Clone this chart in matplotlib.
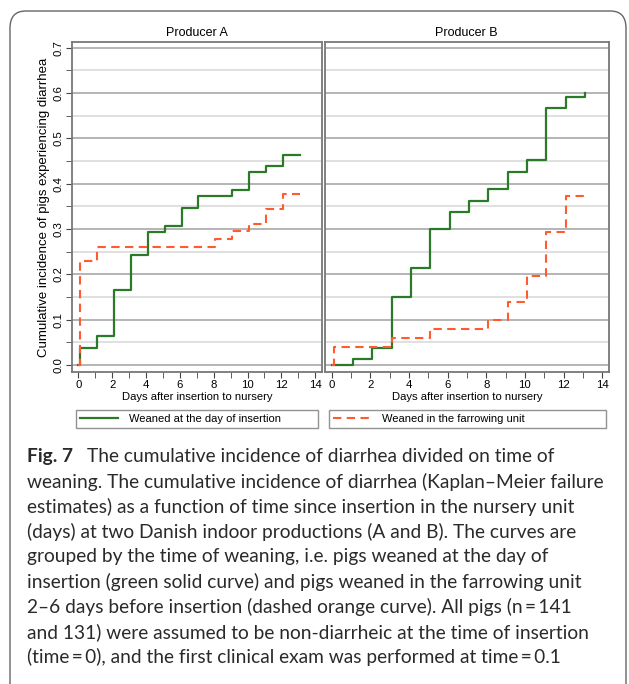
import matplotlib
matplotlib.use("Agg")
import matplotlib.pyplot as plt
from matplotlib.lines import Line2D
from matplotlib.patches import FancyBboxPatch
import numpy as np

# Producer A
dias_a_verde = [0, 0.1, 1.1, 2.1, 3.1, 4.1, 5.1, 6.1, 7.1, 9.1, 10.1, 11.1, 12.1, 13.1]
inc_a_verde = [0, 0.038, 0.064, 0.166, 0.243, 0.294, 0.307, 0.347, 0.372, 0.385, 0.425, 0.438, 0.464, 0.464]
dias_a_laranja = [0, 0.1, 1.1, 8.1, 9.1, 10.1, 11.1, 12.1, 13.1]
inc_a_laranja = [0, 0.230, 0.261, 0.279, 0.295, 0.311, 0.344, 0.377, 0.377]

# Producer B
dias_b_verde = [0, 1.1, 2.1, 3.1, 4.1, 5.1, 6.1, 7.1, 8.1, 9.1, 10.1, 11.1, 12.1, 13.1]
inc_b_verde = [0, 0.0125, 0.038, 0.151, 0.213, 0.299, 0.338, 0.362, 0.388, 0.426, 0.452, 0.567, 0.592, 0.601]
dias_b_laranja = [0, 0.1, 3.1, 5.1, 8.1, 9.1, 10.1, 11.1, 12.1, 13.1]
inc_b_laranja = [0, 0.040, 0.059, 0.079, 0.099, 0.138, 0.196, 0.294, 0.372, 0.372]

titulos = ["Producer A", "Producer B"]
rotulos = ["Weaned at the day of insertion", "Weaned in the farrowing unit"]
xticks = [0, 2, 4, 6, 8, 10, 12, 14]
yticks = [0.0, 0.1, 0.2, 0.3, 0.4, 0.5, 0.6, 0.7]

legenda = [
    "The cumulative incidence of diarrhea divided on time of",
    "weaning. The cumulative incidence of diarrhea (Kaplan\u2013Meier failure",
    "estimates) as a function of time since insertion in the nursery unit",
    "(days) at two Danish indoor productions (A and B). The curves are",
    "grouped by the time of weaning, i.e. pigs weaned at the day of",
    "insertion (green solid curve) and pigs weaned in the farrowing unit",
    "2\u20136 days before insertion (dashed orange curve). All pigs (n\u2009=\u2009141",
    "and 131) were assumed to be non-diarrheic at the time of insertion",
    "(time\u2009=\u20090), and the first clinical exam was performed at time\u2009=\u20090.1",
]

verde = "#2a7a2a"
laranja = "#ff5a30"

plt.rcParams['font.family'] = ['Liberation Sans', 'DejaVu Sans']

W, H = 629, 684
fig = plt.figure(figsize=(W / 100, H / 100), dpi=100)

def caixa(x0, y0, x1, y1):
    # pixels (origem no topo) -> fracao da figura
    return [x0 / W, 1 - y1 / H, (x1 - x0) / W, (y1 - y0) / H]

# moldura arredondada
moldura = FancyBboxPatch((10 / W, -0.05), 616 / W, 1 - 11 / H + 0.05,
                         boxstyle="round,pad=0,rounding_size=0.025",
                         transform=fig.transFigure, fill=False,
                         edgecolor="#666666", linewidth=1.0, clip_on=False)
fig.patches.append(moldura)

ax_a = fig.add_axes(caixa(72, 42, 322, 372))
ax_b = fig.add_axes(caixa(324.5, 42, 609, 372))

dados = [
    (ax_a, dias_a_verde, inc_a_verde, dias_a_laranja, inc_a_laranja, (-0.37, 14.4)),
    (ax_b, dias_b_verde, inc_b_verde, dias_b_laranja, inc_b_laranja, (-0.37, 14.35)),
]

for i, (ax, dv, iv, dl, il, xl) in enumerate(dados):
    ax.set_xlim(xl)
    ax.set_ylim(-0.0155, 0.7126)
    for y in np.arange(0.05, 0.7, 0.1):
        ax.axhline(y, color="#dadada", linewidth=1.2, zorder=1)
    for y in yticks:
        ax.axhline(y, color="#a8a8a8", linewidth=1.2, zorder=1)
    ax.step(dv, iv, where="post", color=verde, linewidth=1.6, zorder=3)
    ax.step(dl, il, where="post", color=laranja, linewidth=1.5,
            linestyle=(0, (4, 2.6)), zorder=4)
    for s in ax.spines.values():
        s.set_color("#777777")
        s.set_linewidth(1.3)
    ax.set_xticks(xticks)
    ax.set_xticks(range(1, 15, 2), minor=True)
    ax.tick_params(axis="x", which="both", direction="out", length=4,
                   color="#444444", labelsize=8.2, pad=2)
    ax.set_xlabel("Days after insertion to nursery", fontsize=8.1, labelpad=1)
    ax.set_title(titulos[i], fontsize=9, pad=4)
    if i == 0:
        ax.set_yticks(yticks)
        ax.set_yticklabels(["%.1f" % v for v in yticks], rotation=90, va="center")
        ax.set_yticks(np.arange(0.05, 0.7, 0.1), minor=True)
        ax.tick_params(axis="y", which="both", direction="out", length=4,
                       color="#444444", labelsize=8.2, pad=2)
        ax.set_ylabel("Cumulative incidence of pigs experiencing diarrhea",
                      fontsize=9.5, labelpad=3)
    else:
        ax.set_yticks([])

# legendas separadas
h1 = Line2D([], [], color=verde, linewidth=1.6)
h2 = Line2D([], [], color=laranja, linewidth=1.5, linestyle=(0, (4, 2.6)))
for h, r, (x0, x1) in [(h1, rotulos[0], (76, 318)), (h2, rotulos[1], (329, 606))]:
    leg = fig.legend([h], [r], loc="center", bbox_to_anchor=caixa(x0, 409, x1, 429),
                     mode="expand", fontsize=8.0, frameon=True, fancybox=False,
                     handlelength=3.4, handletextpad=1.0, borderpad=0.4,
                     borderaxespad=0)
    leg.get_frame().set_edgecolor("#777777")
    leg.get_frame().set_linewidth(1.0)

# texto da figura
fonte_leg = ['Lato', 'DejaVu Sans']
tam = 13.8
cor_txt = "#2a2a2a"
r = fig.canvas.get_renderer()
linhas_y = [456.5 + 25.1 * k for k in range(len(legenda))]
t0 = fig.text(27 / W, 1 - linhas_y[0] / H, "Fig. 7", fontsize=tam, fontweight="bold",
              family=fonte_leg, color=cor_txt, va="center")
bb = t0.get_window_extent(renderer=r)
x_depois = (bb.x1 + 14) / W
fig.text(x_depois, 1 - linhas_y[0] / H, legenda[0], fontsize=tam, family=fonte_leg,
         color=cor_txt, va="center")
for k in range(1, len(legenda)):
    fig.text(27 / W, 1 - linhas_y[k] / H, legenda[k], fontsize=tam,
             family=fonte_leg, color=cor_txt, va="center")

fig.savefig("out.png", dpi=100)
